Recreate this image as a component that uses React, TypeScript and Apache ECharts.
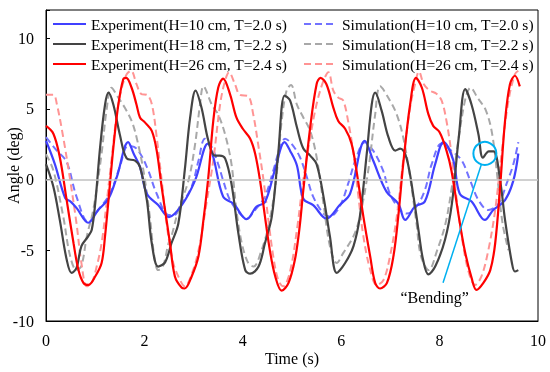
import React, { useEffect, useRef } from 'react';
import * as echarts from 'echarts';

// [time (s), angle (deg)]
const exp10 = [[0,2.75],[0.18,1.1],[0.39,-1.3],[0.5,-1.55],[0.62,-2.0],[0.86,-3.05],[1.06,-2.15],[1.27,-1.35],[1.44,0.2],[1.67,2.65],[1.78,1.85],[1.91,0.9],[2.05,-1.0],[2.28,-1.8],[2.5,-2.65],[2.76,-1.8],[3.03,-0.05],[3.29,2.55],[3.4,1.6],[3.6,-1.2],[3.81,-1.7],[4.08,-2.8],[4.28,-1.9],[4.45,-1.6],[4.65,0.65],[4.85,2.65],[4.96,2.05],[5.1,1.0],[5.23,-1.35],[5.43,-1.8],[5.7,-2.75],[5.97,-1.8],[6.18,-1.0],[6.48,2.75],[6.65,1.35],[6.92,-0.85],[7.16,-1.7],[7.3,-2.85],[7.5,-1.9],[7.7,-1.55],[7.91,1.1],[8.08,2.65],[8.28,1.35],[8.41,-1.0],[8.65,-1.55],[8.92,-2.85],[9.09,-2.15],[9.33,-1.45],[9.5,-0.05],[9.6,1.85]];
const sim10 = [[0,3.0],[0.22,2.05],[0.42,1.25],[0.62,-1.2],[0.86,-3.0],[1.06,-2.15],[1.3,-1.0],[1.5,0.9],[1.67,2.4],[1.84,2.2],[2.05,0.9],[2.25,-1.0],[2.49,-2.5],[2.6,-2.5],[2.76,-1.7],[2.96,-0.5],[3.1,1.35],[3.23,2.9],[3.37,2.3],[3.5,1.1],[3.6,-0.05],[3.74,-1.45],[3.94,-2.4],[4.08,-2.75],[4.25,-2.15],[4.45,-1.2],[4.62,0.65],[4.76,2.3],[4.86,2.9],[5.0,2.5],[5.16,1.6],[5.3,0.2],[5.43,-1.2],[5.64,-2.4],[5.77,-2.6],[5.97,-1.9],[6.14,-0.3],[6.31,1.6],[6.48,2.65],[6.65,2.05],[6.85,0.65],[6.99,-1.0],[7.2,-2.15],[7.33,-2.4],[7.53,-1.9],[7.7,-0.75],[7.84,1.1],[8.04,2.55],[8.24,2.05],[8.45,1.35],[8.62,-0.05],[8.79,-1.45],[8.99,-2.15],[9.2,-1.7],[9.36,-0.3],[9.5,1.1],[9.6,2.65]];
const exp18 = [[0,1.1],[0.15,-0.5],[0.28,-2.85],[0.42,-5.65],[0.52,-6.6],[0.62,-6.25],[0.72,-4.7],[0.86,-4.0],[0.93,-3.55],[1.0,-1.7],[1.1,2.3],[1.2,5.3],[1.27,6.15],[1.37,5.3],[1.5,3.2],[1.64,1.5],[1.81,1.35],[1.91,0.9],[2.05,-1.45],[2.15,-4.5],[2.28,-6.15],[2.42,-5.85],[2.55,-4.5],[2.69,-3.1],[2.82,0.65],[2.93,4.4],[3.04,6.3],[3.16,5.1],[3.3,2.75],[3.43,1.7],[3.53,1.7],[3.64,1.5],[3.77,-0.3],[3.91,-3.8],[4.05,-6.4],[4.15,-6.65],[4.32,-6.15],[4.45,-4.5],[4.59,-2.6],[4.72,1.85],[4.85,5.95],[4.96,5.6],[5.1,3.7],[5.23,2.2],[5.37,1.7],[5.5,1.1],[5.64,-1.2],[5.77,-4.0],[5.91,-6.6],[6.08,-5.9],[6.25,-4.7],[6.38,-2.6],[6.52,1.85],[6.62,5.3],[6.69,6.15],[6.82,4.9],[6.96,3.0],[7.1,2.05],[7.2,2.2],[7.33,1.5],[7.47,-1.2],[7.58,-3.8],[7.66,-5.6],[7.77,-6.7],[7.91,-6.15],[8.11,-4.25],[8.25,-1.7],[8.39,3.0],[8.52,6.4],[8.65,5.3],[8.79,3.2],[8.88,1.55],[9.0,2.0],[9.1,2.0],[9.23,-0.05],[9.33,-2.85],[9.47,-5.9],[9.53,-6.5],[9.6,-6.4]];
const sim18 = [[0,1.8],[0.15,0.65],[0.35,-2.6],[0.49,-5.4],[0.62,-6.4],[0.72,-6.1],[0.83,-4.0],[0.96,-2.15],[1.13,1.85],[1.23,4.9],[1.33,6.5],[1.47,5.8],[1.6,5.1],[1.74,4.15],[1.84,3.0],[1.98,0.65],[2.11,-2.6],[2.2,-5.4],[2.28,-6.4],[2.38,-6.1],[2.49,-4.5],[2.55,-4.0],[2.69,-2.15],[2.9,0.0],[3.03,2.5],[3.13,5.3],[3.2,6.6],[3.37,5.3],[3.5,4.6],[3.64,3.2],[3.77,1.1],[3.87,-2.15],[3.98,-4.5],[4.11,-5.9],[4.22,-6.15],[4.38,-5.0],[4.52,-3.3],[4.66,-0.5],[4.79,4.15],[4.89,6.3],[4.98,6.7],[5.1,5.3],[5.23,4.4],[5.37,3.45],[5.5,1.6],[5.64,-1.7],[5.77,-4.7],[5.91,-5.9],[6.04,-5.2],[6.25,-4.0],[6.38,-2.6],[6.55,0.65],[6.69,4.6],[6.79,6.6],[6.99,5.6],[7.13,4.6],[7.26,3.0],[7.4,0.2],[7.53,-3.1],[7.62,-5.4],[7.78,-6.4],[7.95,-5.0],[8.12,-3.1],[8.25,-0.5],[8.39,3.0],[8.53,5.8],[8.63,6.5],[8.77,5.8],[8.94,4.9],[9.07,3.2],[9.18,0.0],[9.28,-3.1],[9.4,-5.0]];
const exp26 = [[0,3.8],[0.15,3.25],[0.28,1.6],[0.42,-1.45],[0.56,-4.5],[0.66,-6.4],[0.76,-7.3],[0.86,-7.45],[1.0,-6.85],[1.13,-5.9],[1.2,-4.0],[1.27,-1.45],[1.37,2.3],[1.47,5.3],[1.57,7.1],[1.63,7.2],[1.74,6.5],[1.84,5.3],[1.91,4.4],[2.01,4.05],[2.15,3.45],[2.25,2.05],[2.35,-0.5],[2.45,-2.85],[2.52,-4.5],[2.62,-6.85],[2.76,-7.65],[2.82,-7.7],[2.96,-6.85],[3.1,-5.4],[3.2,-2.85],[3.3,0.2],[3.4,4.15],[3.5,6.5],[3.6,7.15],[3.74,6.05],[3.87,4.4],[4.0,3.6],[4.15,2.9],[4.25,1.85],[4.35,-0.05],[4.45,-2.6],[4.55,-5.0],[4.66,-6.85],[4.79,-7.85],[4.93,-7.3],[5.06,-5.65],[5.15,-3.5],[5.23,-0.75],[5.37,3.7],[5.5,6.75],[5.58,7.2],[5.7,6.75],[5.84,5.1],[5.94,4.15],[6.08,3.6],[6.21,2.55],[6.31,0.65],[6.45,-2.6],[6.59,-5.45],[6.69,-7.3],[6.79,-7.7],[6.93,-7.3],[7.06,-5.45],[7.16,-2.6],[7.26,1.1],[7.4,5.3],[7.52,7.2],[7.64,6.5],[7.77,4.65],[7.87,3.8],[8.0,3.35],[8.14,2.05],[8.24,0.65],[8.38,-2.4],[8.51,-5.0],[8.65,-6.95],[8.75,-7.8],[8.89,-7.3],[9.03,-6.4],[9.13,-4.5],[9.23,-0.5],[9.33,4.15],[9.43,6.75],[9.53,7.35],[9.63,6.6]];
const sim26 = [[0,6.0],[0.15,6.0],[0.22,5.35],[0.35,3.0],[0.49,0],[0.62,-3.1],[0.72,-5.9],[0.83,-7.55],[0.93,-7.3],[1.03,-6.15],[1.13,-4.5],[1.23,-1.7],[1.33,1.35],[1.44,4.65],[1.54,6.5],[1.64,7.45],[1.73,7.7],[1.84,6.75],[1.94,6.05],[2.05,6.0],[2.15,5.35],[2.25,3.0],[2.35,0],[2.45,-3.1],[2.58,-5.8],[2.69,-6.85],[2.82,-7.55],[2.99,-6.4],[3.13,-4.5],[3.26,-1.7],[3.4,1.35],[3.54,5.35],[3.64,7.0],[3.72,7.6],[3.84,6.75],[3.94,6.0],[4.11,5.9],[4.21,4.65],[4.31,2.55],[4.42,0],[4.52,-2.85],[4.62,-5.45],[4.72,-7.1],[4.82,-7.55],[4.96,-6.5],[5.1,-3.55],[5.23,0],[5.37,3.0],[5.5,5.35],[5.64,7.0],[5.74,7.6],[5.84,6.3],[5.94,5.8],[6.04,5.6],[6.14,4.15],[6.25,1.85],[6.35,-1.2],[6.45,-4.0],[6.59,-6.4],[6.72,-7.45],[6.86,-7.1],[6.99,-5.45],[7.13,-2.6],[7.26,1.35],[7.4,5.1],[7.5,6.75],[7.58,7.65],[7.68,6.75],[7.8,6.3],[7.93,6.1],[8.04,5.6],[8.14,4.15],[8.24,1.85],[8.34,-1.2],[8.45,-4.0],[8.58,-6.4],[8.72,-7.45],[8.85,-6.85],[8.99,-5.0],[9.13,-2.15],[9.26,1.85],[9.4,5.6],[9.53,7.45],[9.6,7.7]];

const expNames = ['Experiment(H=10 cm, T=2.0 s)', 'Experiment(H=18 cm, T=2.2 s)', 'Experiment(H=26 cm, T=2.4 s)'];
const simNames = ['Simulation(H=10 cm, T=2.0 s)', 'Simulation(H=18 cm, T=2.2 s)', 'Simulation(H=26 cm, T=2.4 s)'];
const xTicks = [0, 2, 4, 6, 8, 10];
const yTicks = [-10, -5, 0, 5, 10];

const bendingPoint = [8.92, 1.85];
const bendingLineEnd = [8.07, -7.3];
const bendingLabelAt = [7.9, -8.35];
const bendingLabel = '\u201cBending\u201d';

export default function App() {
  const ref = useRef<HTMLDivElement>(null);
  useEffect(() => {
    const chart = echarts.init(ref.current!, null, { renderer: 'svg' });
    const font = '"Liberation Serif", "Times New Roman", serif';
    const mk = (name: string, data: number[][], color: string, dashed: boolean, z: number) => ({
      name, type: 'line', data, showSymbol: false, symbol: 'none', smooth: 0.35, silent: true, z,
      lineStyle: { color, width: dashed ? 2 : 2.2, type: dashed ? [7, 4] : 'solid' },
      itemStyle: { color },
    });
    const s0: any = mk(simNames[0], sim10, '#7272ff', true, 2);
    s0.markLine = {
      silent: true, symbol: 'none', label: { show: false },
      lineStyle: { color: '#c0c0c0', width: 1.5, type: 'solid' },
      data: [{ yAxis: 0 }],
    };
    const legendCommon = {
      orient: 'vertical', top: 16, padding: 0, itemWidth: 33, itemHeight: 10, itemGap: 4,
      selectedMode: false,
      itemStyle: { opacity: 0 },
      textStyle: { fontFamily: font, fontSize: 15.5, color: '#000', lineHeight: 16 },
    };
    chart.setOption({
      animation: false,
      textStyle: { fontFamily: font },
      grid: { left: 46, right: 12, top: 10, bottom: 51, containLabel: false, outerBoundsMode: 'none', show: true, borderColor: '#000', borderWidth: 1, backgroundColor: 'transparent' },
      legend: [
        { ...legendCommon, left: 52, data: expNames },
        { ...legendCommon, left: 303, data: simNames },
      ],
      xAxis: {
        type: 'value', min: xTicks[0], max: xTicks[xTicks.length - 1], interval: 2,
        name: 'Time (s)', nameLocation: 'middle', nameGap: 29, nameMoveOverlap: false,
        nameTextStyle: { fontFamily: font, fontSize: 16, color: '#000' },
        axisLine: { onZero: false, lineStyle: { color: '#000', width: 1 } },
        axisTick: { show: false },
        splitLine: { show: false },
        axisLabel: { fontFamily: font, fontSize: 16, color: '#000', margin: 11 },
      },
      yAxis: {
        type: 'value', min: yTicks[0], max: 12, interval: 5,
        name: 'Angle (deg)', nameLocation: 'middle', nameGap: 25, nameMoveOverlap: false,
        nameTextStyle: { fontFamily: font, fontSize: 16, color: '#000' },
        axisLine: { show: true, lineStyle: { color: '#000', width: 1 } },
        axisTick: { show: true, inside: true, length: 4, lineStyle: { color: '#000' } },
        splitLine: { show: false },
        axisLabel: {
          fontFamily: font, fontSize: 16, color: '#000', margin: 12,
          formatter: (v: number) => (yTicks.indexOf(v) >= 0 ? String(v) : ''),
        },
      },
      series: [
        s0,
        mk(simNames[1], sim18, '#a8a8a8', true, 2),
        mk(simNames[2], sim26, '#ff9494', true, 2),
        mk(expNames[0], exp10, '#4040ff', false, 3),
        mk(expNames[1], exp18, '#444444', false, 3),
        mk(expNames[2], exp26, '#ff0000', false, 3),
      ],
    });
    const c = chart.convertToPixel({ gridIndex: 0 }, bendingPoint) as number[];
    const e = chart.convertToPixel({ gridIndex: 0 }, bendingLineEnd) as number[];
    const t = chart.convertToPixel({ gridIndex: 0 }, bendingLabelAt) as number[];
    const r = 11.5;
    const dx = e[0] - c[0], dy = e[1] - c[1];
    const len = Math.sqrt(dx * dx + dy * dy);
    const sx = c[0] + (dx / len) * r, sy = c[1] + (dy / len) * r;
    chart.setOption({
      graphic: [
        { type: 'circle', z: 10, silent: true, shape: { cx: c[0], cy: c[1], r }, style: { fill: 'none', stroke: '#00b0f0', lineWidth: 2 } },
        { type: 'line', z: 10, silent: true, shape: { x1: sx, y1: sy, x2: e[0], y2: e[1] }, style: { stroke: '#00b0f0', lineWidth: 1.5 } },
        { type: 'text', z: 10, silent: true, x: t[0], y: t[1], style: { text: bendingLabel, fill: '#000', font: `16px ${font}`, align: 'center', verticalAlign: 'middle' } },
      ],
    });
    return () => chart.dispose();
  }, []);
  return <div ref={ref} style={{ position: 'fixed', left: 0, top: 0, width: 550, height: 372 }} />;
}
